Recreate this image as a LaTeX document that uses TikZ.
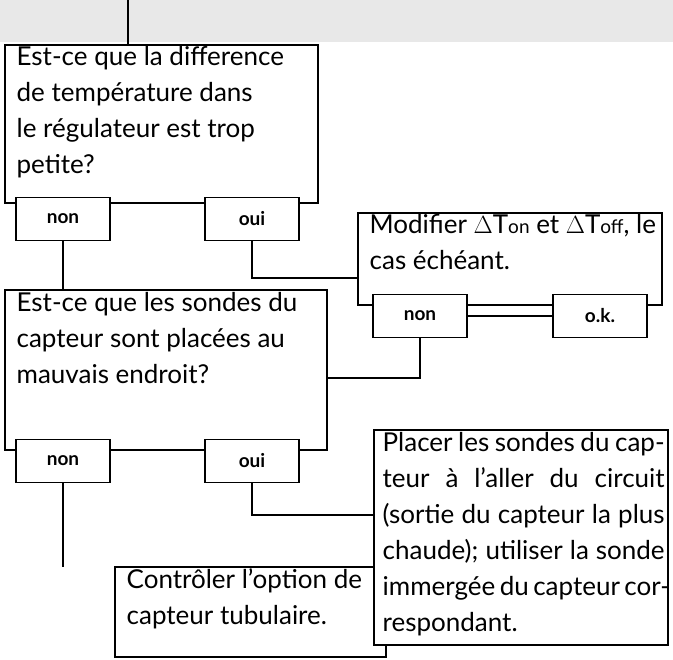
\documentclass[tikz,border=0pt]{standalone}
\usepackage{fontspec}
\setmainfont{Lato}
\newcommand{\jl}[1]{\makebox[282pt][s]{#1}}
\begin{document}
\begin{tikzpicture}[x=1pt,y=-1pt,line width=1.3pt,
  box/.style={draw,fill=white},
  lab/.style={draw,fill=white,minimum width=94pt,minimum height=43pt,font=\fontsize{19}{20}\selectfont\bfseries,inner sep=0pt},
  txt/.style={anchor=north west,align=left,inner sep=0pt,font=\fontsize{26}{36}\selectfont},
  conn/.style={line width=1.5pt}]
\useasboundingbox (0,0) rectangle (673,660);
\fill[black!9] (0,0) rectangle (673,42);
% box 1
\draw[box] (5,45) rectangle (318,203);
\node[txt] (t1) at (16,46) {Est-ce que la difference\\de température dans\\le régulateur est trop\\petite?};
\coordinate (top) at (128,0);
\coordinate (b1top) at (128,45);
\draw[conn] (top) -- (b1top);
% box 3
\draw[box] (358,213) rectangle (662,305);
\node[txt] (t3) at (369,214) {Modifier $\Delta$T{\fontsize{19}{20}\selectfont on} et $\Delta$T{\fontsize{19}{20}\selectfont off}, le\\cas échéant.};
\node[lab] (n1) at (63,219) {non};
\node[lab] (o1) at (252,219) {oui};
\node[lab] (n3) at (420,316) {non};
\node[lab] (k3) at (600,316) {o.k.};
\draw[conn] (n3.east) -- (k3.west);
\draw[conn] (o1.south) |- (358,278);
% box 2
\draw[box] (5,290) rectangle (327,450);
\node[txt] (t2) at (16,292) {Est-ce que les sondes du\\capteur sont placées au\\mauvais endroit?};
\coordinate (b2top) at (63,290);
\draw[conn] (n1.south) -- (b2top);
\draw[conn] (n3.south) |- (327,378);
\node[lab] (n2) at (63,461) {non};
\node[lab] (o2) at (252,461) {oui};
% box 4
\draw[box] (115,567) rectangle (386,657);
\node[txt] (t4) at (126,568) {Contrôler l’option de\\capteur tubulaire.};
\coordinate (b4top) at (63,567);
\draw[conn] (n2.south) -- (b4top);
% box 5
\draw[box] (374,430) rectangle (668,645);
\node[txt] (t5) at (382,432) {\jl{Placer les sondes du cap-}\\\jl{teur à l’aller du circuit}\\\jl{(sortie du capteur la plus}\\\jl{chaude); utiliser la sonde}\\\jl{immergée du capteur cor-}\\respondant.};
\draw[conn] (o2.south) |- (374,515);
\end{tikzpicture}
\end{document}
